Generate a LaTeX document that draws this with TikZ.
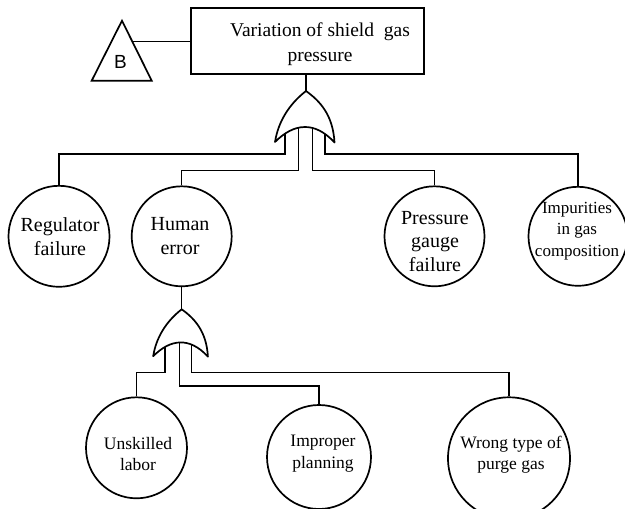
\documentclass[tikz,border=0pt]{standalone}
\usepackage{fontspec}
\setmainfont{Liberation Serif}
\newfontfamily\sansfam{Liberation Sans}
\tikzset{
  event/.style={circle,draw,line width=1.7pt,inner sep=0pt},
  evtext/.style={align=center,inner sep=0pt,font=\fontsize{20}{23.5}\selectfont},
  evsmall/.style={align=center,inner sep=0pt,font=\fontsize{17.5}{21.7}\selectfont},
  link/.style={line width=1.3pt},
  orgate/.pic={
    \draw[line width=1.7pt,fill=white,line join=round]
      (0,0) .. controls (14,10) and (27,24) .. (28.5,51.5)
            .. controls (18,40) and (8,36) .. (-1,36)
            .. controls (-12,36) and (-22,42) .. (-31,51)
            .. controls (-28,32) and (-18,14) .. cycle;
  }
}
\begin{document}
\begin{tikzpicture}[x=1pt,y=-1pt]
\useasboundingbox (0,0) rectangle (625,509);
\clip (0,0) rectangle (625,509);

% top event
\node[draw,line width=1.7pt,minimum width=233pt,minimum height=66pt,inner sep=0pt] (top) at (307.5,41) {};
\node[evtext,font=\fontsize{19.5}{25}\selectfont] (top-t) at (320,44) {Variation of shield\ \ gas\\pressure};

% transfer symbol B
\draw[line width=1.7pt,line join=miter] (122,20.7) -- (151.7,80.7) -- (91.7,80.7) -- cycle;
\coordinate (tri) at (132.4,41.7);
\node[font=\sansfam\fontsize{19}{19}\selectfont,inner sep=0pt] (B) at (120.5,62) {B};
\draw[link] (tri) -- (top.west |- tri);

% basic events
\node[event,minimum size=101pt] (reg) at (59,236.3) {};
\node[event,minimum size=100pt] (hum) at (181.7,236.3) {};
\node[event,minimum size=100pt] (pgf) at (434.5,236.3) {};
\node[event,minimum size=99pt] (imp) at (578,236.3) {};
\node[event,minimum size=101pt] (uns) at (136.5,447.8) {};
\node[event,minimum size=104pt] (imprp) at (319,457) {};
\node[event,minimum size=122pt] (wrong) at (509,458.3) {};

% gate apexes and inputs
\coordinate (g1) at (306,91);
\coordinate (g1a) at (285,128);
\coordinate (g1b) at (298.3,128);
\coordinate (g1c) at (312.3,128);
\coordinate (g1d) at (325,128);
\coordinate (g2) at (181.7,309.3);
\coordinate (g2a) at (165,343);
\coordinate (g2b) at (179.3,343);
\coordinate (g2c) at (191.7,343);

% connectors
\draw[link] (g1 |- top.south) -- (g1);
\draw[link] (g1a) -- ++(0,26) -| (reg.north);
\draw[link] (g1b) -- ++(0,42.7) -| (hum.north);
\draw[link] (g1c) -- ++(0,42.7) -| (pgf.north);
\draw[link] (g1d) -- ++(0,26) -| (imp.north);
\draw[link] (hum.south) -- (g2);
\draw[link] (g2a) -- ++(0,29.7) -| (uns.north);
\draw[link] (g2b) -- ++(0,43) -| (imprp.north);
\draw[link] (g2c) -- ++(0,29.7) -| (wrong.north);

% OR gates
\pic at (g1) {orgate};
\pic[scale=0.92] at (g2) {orgate};

% event texts
\node[evtext] (reg-t) at (60,236.5) {Regulator\\failure};
\node[evtext] (hum-t) at (180,236) {Human\\error};
\node[evtext] (pgf-t) at (435,241.3) {Pressure\\gauge\\failure};
\node[evsmall,font=\fontsize{17}{21.7}\selectfont] (imp-t) at (577,231) {Impurities\\in gas\\composition};
\node[evsmall] (uns-t) at (138,454) {Unskilled\\labor};
\node[evsmall] (imprp-t) at (323,454) {Improper\\planning};
\node[evsmall] (wrong-t) at (511,454.6) {Wrong type of\\purge gas};
\end{tikzpicture}
\end{document}
